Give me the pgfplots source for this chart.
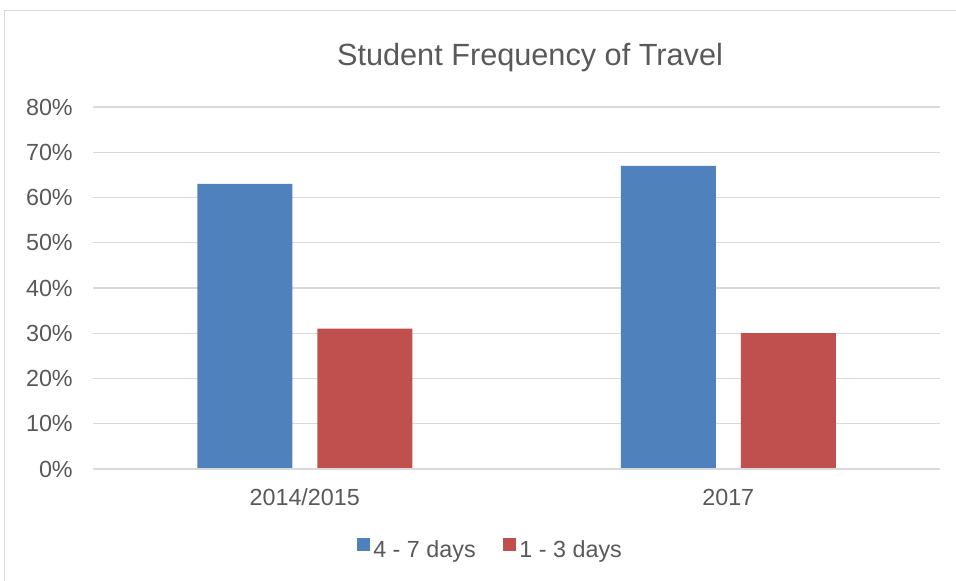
\documentclass[border=0pt]{standalone}
\usepackage{fontspec}
\setmainfont{Liberation Sans}
\usepackage{pgfplots}
\pgfplotsset{compat=1.18}

\definecolor{barblue}{HTML}{4F81BD}
\definecolor{barred}{HTML}{C0504D}
\definecolor{gridgray}{HTML}{D9D9D9}
\definecolor{textgray}{HTML}{595959}

\begin{document}
\begin{tikzpicture}
% page = 956 x 581 px at 0.75pt per px
\useasboundingbox (0pt,0pt) rectangle (717pt,435.75pt);
\draw[gridgray, line width=1.1pt] (3.4pt,-2pt) -- (3.4pt,427.9pt) -- (720pt,427.9pt);
\node[anchor=base, text=textgray, font=\fontsize{23}{27}\selectfont, inner sep=0pt]
  at (397.5pt,386.25pt) {Student Frequency of Travel};
\begin{axis}[
    at={(69.75pt,84pt)}, anchor=south west,
    scale only axis,
    width=635.25pt, height=271.5pt,
    ybar, bar width=71.25pt,
    xmin=-0.5, xmax=1.5,
    ymin=0, ymax=80,
    xtick={0,1}, xticklabels={2014/2015, 2017},
    ytick={0,10,...,80},
    yticklabels={0\%,10\%,20\%,30\%,40\%,50\%,60\%,70\%,80\%},
    major tick length=0pt,
    axis line style={draw=none},
    ymajorgrids,
    grid style={gridgray, line width=1.1pt},
    tick label style={text=textgray, font=\fontsize{17.5}{21}\selectfont, inner sep=0pt},
    yticklabel style={anchor=east, xshift=-15pt},
    xticklabel style={anchor=base, yshift=-27.5pt},
    legend columns=2,
    legend style={at={(0.47,-0.224)}, anchor=center, draw=none,
                  font=\fontsize{17.5}{21}\selectfont, text=textgray,
                  /tikz/every even column/.append style={column sep=18pt},
                  nodes={inner sep=2.5pt}},
    legend cell align=left,
    legend image code/.code={\fill[#1] (0pt,-0.5pt) rectangle (9.75pt,9.25pt);},
  ]
\addplot[fill=barblue, draw=none, bar shift=-45pt] coordinates {(0,63) (1,67)};
\addplot[fill=barred, draw=none, bar shift=45pt] coordinates {(0,31) (1,30)};
\legend{4 - 7 days, 1 - 3 days}
% the 0% line sits over the bar feet
\draw[gridgray, line width=1.1pt] (rel axis cs:0,0) -- (rel axis cs:1,0);
\end{axis}
\end{tikzpicture}
\end{document}
